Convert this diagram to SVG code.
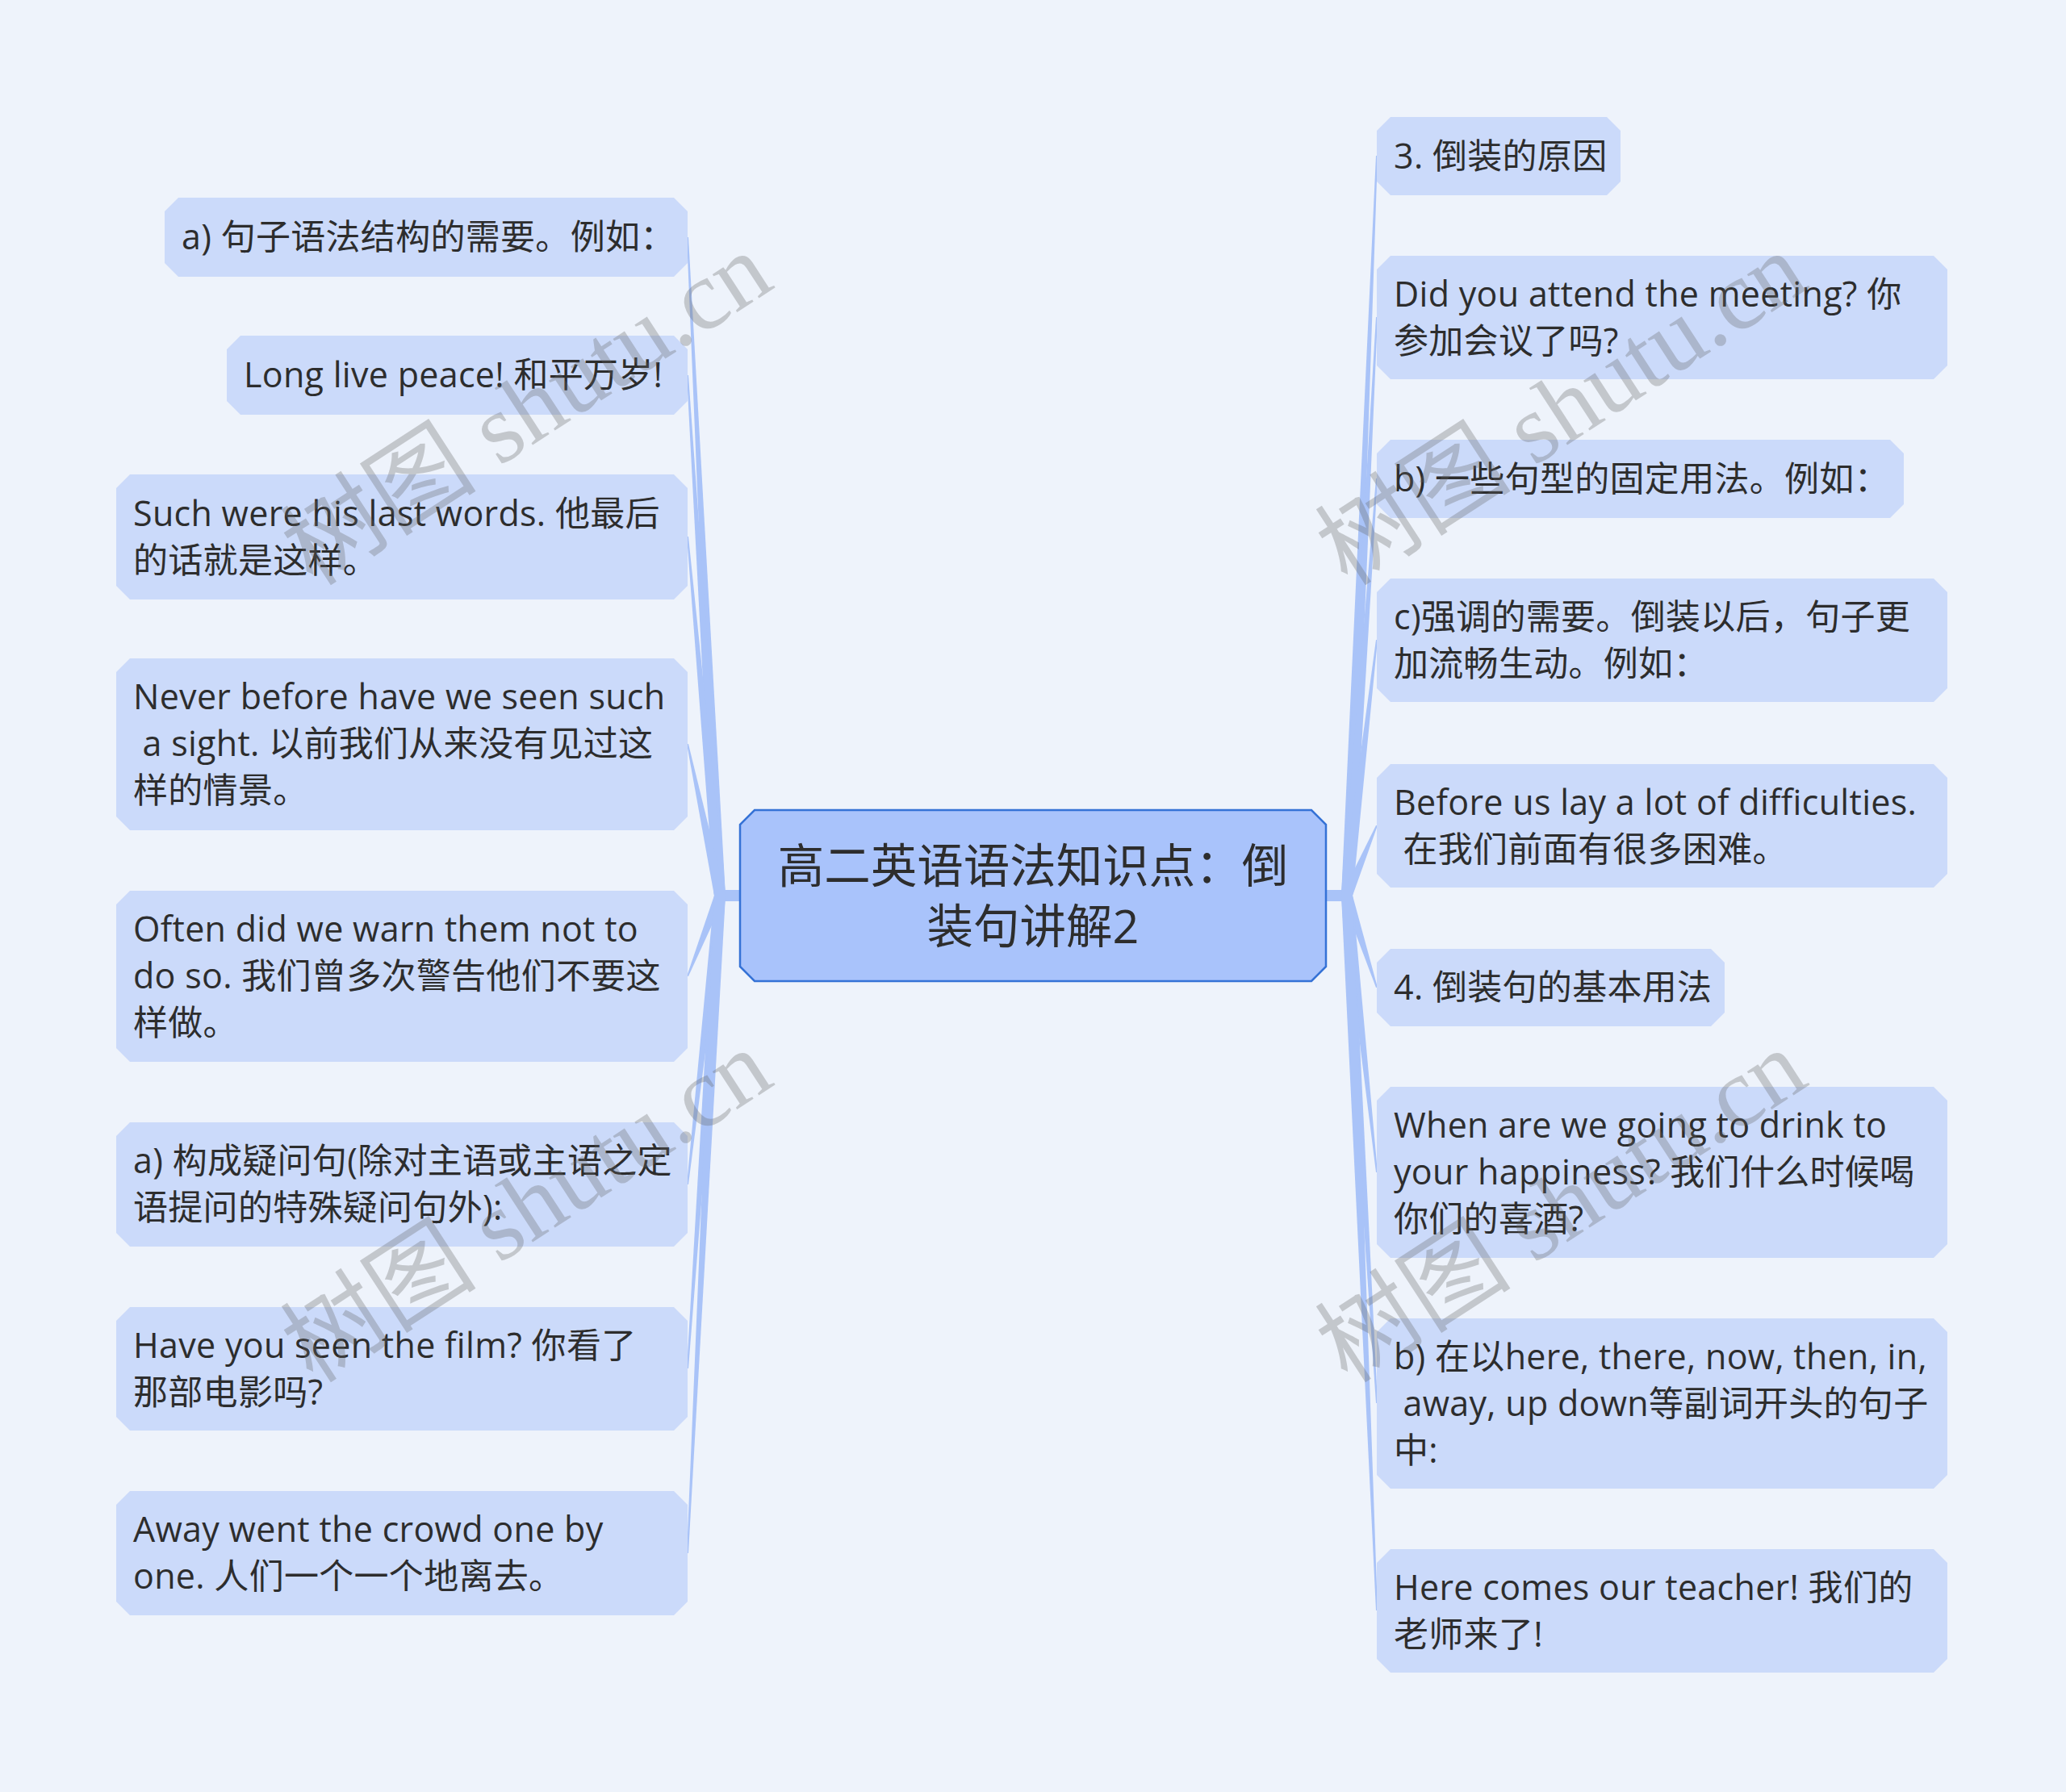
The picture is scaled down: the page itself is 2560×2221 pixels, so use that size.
<svg xmlns="http://www.w3.org/2000/svg" width="2560" height="2221" viewBox="0 0 2560 2221">
<style>
.bg{fill:#eef3fb}
.node{fill:#cbdafa}
.root{fill:#a9c3fb;stroke:#3572d6;stroke-width:2.5}
.t{font-family:"Open Sans","Noto Sans CJK SC",sans-serif;font-size:43px;letter-spacing:0.3px;fill:#2d2d2d}
.rt{font-family:"Open Sans","Noto Sans CJK SC",sans-serif;font-size:57.5px;fill:#2d2d2d;text-anchor:middle}
.c{fill:#a9c3f8}
.wm{font-family:"Liberation Serif","Noto Sans CJK SC",serif;font-size:122px;fill:#646464;opacity:0.3}
</style>
<rect class="bg" x="0" y="0" width="2560" height="2221"/>
<g id="connectors">
<rect class="c" x="889" y="1103" width="30" height="14"/>
<rect class="c" x="1641" y="1103" width="31" height="14"/>
<polygon class="c" points="885,1110 851,294 853,294 899,1110"/>
<polygon class="c" points="885,1110 851,465 853,465 899,1110"/>
<polygon class="c" points="885,1110 851,665 853,665 899,1110"/>
<polygon class="c" points="885,1110 851,922 853,922 899,1110"/>
<polygon class="c" points="885,1110 851,1210 853,1210 899,1110"/>
<polygon class="c" points="885,1110 851,1468 853,1468 899,1110"/>
<polygon class="c" points="885,1110 851,1696 853,1696 899,1110"/>
<polygon class="c" points="885,1110 851,1925 853,1925 899,1110"/>
<polygon class="c" points="1662,1110 1705,193 1707,193 1676,1110"/>
<polygon class="c" points="1662,1110 1705,393 1707,393 1676,1110"/>
<polygon class="c" points="1662,1110 1705,593 1707,593 1676,1110"/>
<polygon class="c" points="1662,1110 1705,793 1707,793 1676,1110"/>
<polygon class="c" points="1662,1110 1705,1023 1707,1023 1676,1110"/>
<polygon class="c" points="1662,1110 1705,1224 1707,1224 1676,1110"/>
<polygon class="c" points="1662,1110 1705,1453 1707,1453 1676,1110"/>
<polygon class="c" points="1662,1110 1705,1739 1707,1739 1676,1110"/>
<polygon class="c" points="1662,1110 1705,1996 1707,1996 1676,1110"/>
</g>
<g id="root">
<path class="root" d="M935,1004 H1625 L1643,1022 V1198 L1625,1216 H935 L917,1198 V1022 Z"/>
<text class="rt" x="1280" y="1094">高二英语语法知识点：倒</text>
<text class="rt" x="1280" y="1169">装句讲解2</text>
</g>
<g id="L1">
<path class="node" d="M221,245 H835 L852,262 V326 L835,343 H221 L204,326 V262 Z"/>
<text class="t" x="225" y="309">a) 句子语法结构的需要。例如：</text>
</g>
<g id="L2">
<path class="node" d="M298,416 H835 L852,433 V497 L835,514 H298 L281,497 V433 Z"/>
<text class="t" x="302" y="480">Long live peace! 和平万岁!</text>
</g>
<g id="L3">
<path class="node" d="M161,588 H835 L852,605 V726 L835,743 H161 L144,726 V605 Z"/>
<text class="t" x="165" y="651.5">Such were his last words. 他最后</text>
<text class="t" x="165" y="709.5">的话就是这样。</text>
</g>
<g id="L4">
<path class="node" d="M161,816 H835 L852,833 V1012 L835,1029 H161 L144,1012 V833 Z"/>
<text class="t" x="165" y="879">Never before have we seen such</text>
<text class="t" x="165" y="937" xml:space="preserve"> a sight. 以前我们从来没有见过这</text>
<text class="t" x="165" y="995">样的情景。</text>
</g>
<g id="L5">
<path class="node" d="M161,1104 H835 L852,1121 V1299 L835,1316 H161 L144,1299 V1121 Z"/>
<text class="t" x="165" y="1167">Often did we warn them not to</text>
<text class="t" x="165" y="1225">do so. 我们曾多次警告他们不要这</text>
<text class="t" x="165" y="1283">样做。</text>
</g>
<g id="L6">
<path class="node" d="M161,1391 H835 L852,1408 V1528 L835,1545 H161 L144,1528 V1408 Z"/>
<text class="t" x="165" y="1454">a) 构成疑问句(除对主语或主语之定</text>
<text class="t" x="165" y="1512">语提问的特殊疑问句外):</text>
</g>
<g id="L7">
<path class="node" d="M161,1620 H835 L852,1637 V1756 L835,1773 H161 L144,1756 V1637 Z"/>
<text class="t" x="165" y="1682.5">Have you seen the film? 你看了</text>
<text class="t" x="165" y="1740.5">那部电影吗?</text>
</g>
<g id="L8">
<path class="node" d="M161,1848 H835 L852,1865 V1985 L835,2002 H161 L144,1985 V1865 Z"/>
<text class="t" x="165" y="1911">Away went the crowd one by</text>
<text class="t" x="165" y="1969">one. 人们一个一个地离去。</text>
</g>
<g id="R1">
<path class="node" d="M1723,145 H1991 L2008,162 V225 L1991,242 H1723 L1706,225 V162 Z"/>
<text class="t" x="1727" y="208.5">3. 倒装的原因</text>
</g>
<g id="R2">
<path class="node" d="M1723,317 H2396 L2413,334 V453 L2396,470 H1723 L1706,453 V334 Z"/>
<text class="t" x="1727" y="379.5">Did you attend the meeting? 你</text>
<text class="t" x="1727" y="437.5">参加会议了吗?</text>
</g>
<g id="R3">
<path class="node" d="M1723,545 H2342 L2359,562 V625 L2342,642 H1723 L1706,625 V562 Z"/>
<text class="t" x="1727" y="608.5">b) 一些句型的固定用法。例如：</text>
</g>
<g id="R4">
<path class="node" d="M1723,717 H2396 L2413,734 V853 L2396,870 H1723 L1706,853 V734 Z"/>
<text class="t" x="1727" y="779.5">c)强调的需要。倒装以后，句子更</text>
<text class="t" x="1727" y="837.5">加流畅生动。例如：</text>
</g>
<g id="R5">
<path class="node" d="M1723,947 H2396 L2413,964 V1083 L2396,1100 H1723 L1706,1083 V964 Z"/>
<text class="t" x="1727" y="1009.5">Before us lay a lot of difficulties.</text>
<text class="t" x="1727" y="1067.5" xml:space="preserve"> 在我们前面有很多困难。</text>
</g>
<g id="R6">
<path class="node" d="M1723,1176 H2120 L2137,1193 V1255 L2120,1272 H1723 L1706,1255 V1193 Z"/>
<text class="t" x="1727" y="1239">4. 倒装句的基本用法</text>
</g>
<g id="R7">
<path class="node" d="M1723,1347 H2396 L2413,1364 V1542 L2396,1559 H1723 L1706,1542 V1364 Z"/>
<text class="t" x="1727" y="1410">When are we going to drink to</text>
<text class="t" x="1727" y="1468">your happiness? 我们什么时候喝</text>
<text class="t" x="1727" y="1526">你们的喜酒?</text>
</g>
<g id="R8">
<path class="node" d="M1723,1634 H2396 L2413,1651 V1828 L2396,1845 H1723 L1706,1828 V1651 Z"/>
<text class="t" x="1727" y="1696.5">b) 在以here, there, now, then, in,</text>
<text class="t" x="1727" y="1754.5" xml:space="preserve"> away, up down等副词开头的句子</text>
<text class="t" x="1727" y="1812.5">中:</text>
</g>
<g id="R9">
<path class="node" d="M1723,1920 H2396 L2413,1937 V2056 L2396,2073 H1723 L1706,2056 V1937 Z"/>
<text class="t" x="1727" y="1982.5">Here comes our teacher! 我们的</text>
<text class="t" x="1727" y="2040.5">老师来了!</text>
</g>
<g id="watermarks">
<text class="wm" transform="translate(388,728) rotate(-33)">树图 shutu.cn</text>
<text class="wm" transform="translate(388,1716) rotate(-33)">树图 shutu.cn</text>
<text class="wm" transform="translate(1670,728) rotate(-33)">树图 shutu.cn</text>
<text class="wm" transform="translate(1670,1716) rotate(-33)">树图 shutu.cn</text>
</g>
</svg>
